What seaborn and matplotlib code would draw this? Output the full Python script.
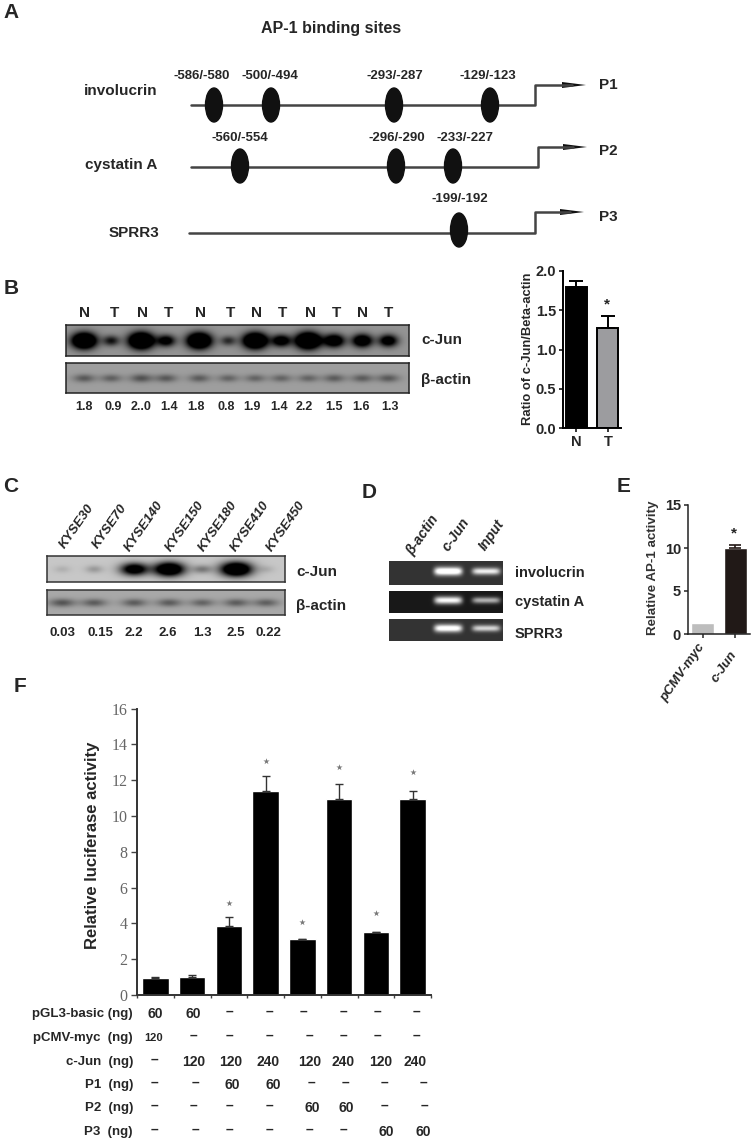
import numpy as np
import pandas as pd
import matplotlib
matplotlib.use("Agg")
import matplotlib.pyplot as plt
from matplotlib.patches import Ellipse
import seaborn as sns

W, H = 754, 1143

# Panel A
genes = ["involucrin", "cystatin A", "SPRR3"]
promoters = ["P1", "P2", "P3"]
site_labels = [["-586/-580", "-500/-494", "-293/-287", "-129/-123"],
               ["-560/-554", "-296/-290", "-233/-227"],
               ["-199/-192"]]
site_pos = [[214, 271, 394, 490], [240, 396, 453], [459]]
label_pos = [[202, 270, 395, 488], [240, 397, 465], [460]]

# Panel B
b_lanes = ["N", "T", "N", "T", "N", "T", "N", "T", "N", "T", "N", "T"]
b_lane_x = [84, 114, 142, 168, 200, 230, 256, 283, 310, 336, 363, 389]
b_ratios = ["1.8", "0.9", "2..0", "1.4", "1.8", "0.8", "1.9", "1.4", "2.2", "1.5", "1.6", "1.3"]
b_ratio_x = [84, 113, 141, 169, 196, 226, 252, 279, 304, 334, 361, 390]
b_band_x = [84, 111, 141, 166, 199, 228, 255, 281, 308, 334, 362, 388]
b_jun = [0.95, 0.35, 1.0, 0.5, 0.95, 0.28, 0.95, 0.55, 1.0, 0.65, 0.65, 0.55]
b_actin = [0.5, 0.45, 0.55, 0.5, 0.48, 0.42, 0.42, 0.42, 0.42, 0.48, 0.48, 0.5]
b_groups = ["N", "T"]
b_means = [1.8, 1.28]
b_errs = [0.07, 0.15]

# Panel C
c_lines = ["KYSE30", "KYSE70", "KYSE140", "KYSE150", "KYSE180", "KYSE410", "KYSE450"]
c_line_x = [77, 110, 144, 185, 218, 250, 286]
c_ratios = ["0.03", "0.15", "2.2", "2.6", "1.3", "2.5", "0.22"]
c_ratio_x = [63, 100, 134, 168, 202, 236, 268]
c_band_x = [62, 94, 134, 169, 202, 236, 266]
c_jun = [0.06, 0.12, 0.72, 0.9, 0.2, 0.95, 0.06]
c_actin = [0.55, 0.5, 0.5, 0.5, 0.45, 0.5, 0.48]

# Panel D
d_lanes = ["β-actin", "c-Jun", "Input"]
d_lane_x = [423, 456, 492]
d_genes = ["involucrin", "cystatin A", "SPRR3"]
d_jun = [1.0, 0.9, 0.9]
d_input = [0.75, 0.6, 0.65]

# Panel E
e_groups = ["pCMV-myc", "c-Jun"]
e_means = [1.25, 10.0]
e_errs = [0.0, 0.3]
e_colors = ["#bdbdbd", "#231815"]

# Panel F
f_groups = ["a", "b", "c", "d", "e", "f", "g", "h"]
f_means = [0.97, 1.02, 3.84, 11.38, 3.11, 10.93, 3.5, 10.97]
f_errs = [0.05, 0.09, 0.5, 0.85, 0.04, 0.85, 0.04, 0.45]
f_star_groups = [2, 3, 4, 5, 6, 7]
f_star_y = [5.12, 13.05, 4.08, 12.72, 4.6, 12.46]
f_rows = ["pGL3-basic (ng)", "pCMV-myc  (ng)", "c-Jun  (ng)", "P1  (ng)", "P2  (ng)", "P3  (ng)"]
f_table = [["60", "60", "–", "–", "–", "–", "–", "–"],
           ["120", "–", "–", "–", "–", "–", "–", "–"],
           ["–", "120", "120", "240", "120", "240", "120", "240"],
           ["–", "–", "60", "60", "–", "–", "–", "–"],
           ["–", "–", "–", "–", "60", "60", "–", "–"],
           ["–", "–", "–", "–", "–", "–", "60", "60"]]
f_table_x = [[155, 193, 229, 269, 303, 343, 377, 416],
             [154, 193, 229, 269, 309, 343, 377, 416],
             [154, 194, 231, 268, 310, 343, 381, 415],
             [154, 195, 232, 273, 311, 345, 384, 423],
             [154, 193, 229, 269, 312, 346, 384, 424],
             [154, 195, 229, 269, 309, 343, 386, 423]]
f_table_y = [1014, 1038, 1062, 1085, 1108, 1132]

sns.set_style("ticks")
plt.rcParams["font.family"] = ["Liberation Sans", "DejaVu Sans"]
plt.rcParams["font.weight"] = "bold"
plt.rcParams["axes.labelweight"] = "bold"

fig = plt.figure(figsize=(W / 100, H / 100), dpi=100)


def px_axes(x0, y0, x1, y1, **kw):
    return fig.add_axes([x0 / W, 1 - y1 / H, (x1 - x0) / W, (y1 - y0) / H], **kw)


def blot(x0, y0, x1, y1, band_x, strengths, bg, band_w, band_h, gain=1.5, edge="#222222"):
    # bands as soft blobs on a grey membrane
    ax = px_axes(x0, y0, x1, y1)
    xx, yy = np.meshgrid(np.arange(x0, x1, 0.5), np.arange(y0, y1, 0.5))
    cy = (y0 + y1) / 2
    img = np.full(xx.shape, bg, dtype=float)
    for bx, s in zip(band_x, strengths):
        w = band_w * (0.6 + 0.6 * s)
        h = band_h * (0.55 + 0.65 * s)
        img -= gain * s * np.exp(-((xx - bx) / w) ** 2 - ((yy - cy) / h) ** 2)
    img = np.clip(img, 0, 1)
    ax.imshow(img, cmap="gray", vmin=0, vmax=1, aspect="auto",
              extent=(x0, x1, y1, y0), interpolation="bilinear")
    ax.set_xticks([])
    ax.set_yticks([])
    for s in ax.spines.values():
        s.set_color(edge)
        s.set_linewidth(1.1)
    return ax


def gel(x0, y0, x1, y1, strengths, bg):
    ax = px_axes(x0, y0, x1, y1)
    xx, yy = np.meshgrid(np.arange(x0, x1, 0.5), np.arange(y0, y1, 0.5))
    cy = (y0 + y1) / 2 - 2
    img = np.full(xx.shape, bg, dtype=float)
    for bx, s, hw in zip([448, 486], strengths, [14, 14]):
        img += s * np.exp(-((xx - bx) / hw) ** 6 - ((yy - cy) / (3.4 * (0.5 + s * 0.7))) ** 2)
    ax.imshow(np.clip(img, 0, 1), cmap="gray", vmin=0, vmax=1, aspect="auto",
              extent=(x0, x1, y1, y0), interpolation="bilinear")
    ax.axis("off")


# background layer: texts and the promoter diagrams
bg = px_axes(0, 0, W, H)
bg.set_xlim(0, W)
bg.set_ylim(H, 0)
bg.axis("off")


def t(x, y, s, size=10, **kw):
    kw.setdefault("ha", "center")
    kw.setdefault("va", "center")
    bg.text(x, y, s, fontsize=size, **kw)


for x, y, s in [(11, 12, "A"), (11, 288, "B"), (11, 487, "C"), (369, 493, "D"), (624, 487, "E"), (20, 687, "F")]:
    t(x, y, s, 15)

# Panel A
t(331, 29, "AP-1 binding sites", 11.5)
line_y = [105, 167, 233]
line_x0 = [191, 191, 189]
line_x1 = [535, 538, 535]
arrow_y = [85, 147, 212]
arrow_x1 = [586, 587, 584]
gene_x = [121, 121, 134]
gene_y = [91, 165, 233]
prom_y = [85, 151, 217]
ell_y = [105, 166, 230]
lab_y = [76, 138, 199]
for i in range(3):
    bg.plot([line_x0[i], line_x1[i], line_x1[i], arrow_x1[i] - 14],
            [line_y[i], line_y[i], arrow_y[i], arrow_y[i]], color="#444444", lw=1.8)
    bg.fill([arrow_x1[i] - 24, arrow_x1[i], arrow_x1[i] - 24],
            [arrow_y[i] - 3, arrow_y[i], arrow_y[i] + 3], color="#111111", lw=0)
    t(gene_x[i], gene_y[i], genes[i], 11)
    t(608, prom_y[i], promoters[i], 11)
    for sx, lx, lab in zip(site_pos[i], label_pos[i], site_labels[i]):
        bg.add_patch(Ellipse((sx, ell_y[i]), 17, 34, color="#111111", zorder=3))
        t(lx, lab_y[i], lab, 9.5)

# Panel B blots
for x, s in zip(b_lane_x, b_lanes):
    t(x, 313, s, 11)
blot(66, 325, 409, 356, b_band_x, b_jun, 0.58, 10, 6.5)
blot(66, 363, 409, 393, b_band_x, b_actin, 0.62, 12, 4.5, gain=0.55)
t(421, 340, "c-Jun", 11, ha="left")
t(421, 380, "β-actin", 11, ha="left")
for x, s in zip(b_ratio_x, b_ratios):
    t(x, 407, s, 9)

# Panel B bars
df_b = pd.DataFrame({"group": b_groups, "ratio": b_means})
ax_b = px_axes(563, 271, 621, 428)
ax_b.patch.set_alpha(0)
sns.barplot(data=df_b, x="group", y="ratio", hue="group", palette=["#000000", "#9b9ba0"],
            width=0.66, edgecolor="black", linewidth=1.4, legend=False, ax=ax_b)
ax_b.errorbar(range(2), b_means, yerr=[[0, 0], b_errs], fmt="none", ecolor="black",
              elinewidth=1.4, capsize=5, capthick=1.4)
ax_b.set_ylim(0, 2)
ax_b.set_yticks([0, 0.5, 1, 1.5, 2])
ax_b.set_yticklabels(["0.0", "0.5", "1.0", "1.5", "2.0"])
ax_b.set_xlabel("")
ax_b.set_ylabel("")
ax_b.tick_params(labelsize=10.5, width=1.3, length=3, pad=2)
sns.despine(ax=ax_b)
for s in ["left", "bottom"]:
    ax_b.spines[s].set_linewidth(1.4)
    ax_b.spines[s].set_color("black")
t(528, 349, "Ratio of c-Jun/Beta-actin", 9.4, rotation=90)
t(607, 304, "*", 11)

# Panel C
for x, s in zip(c_line_x, c_lines):
    t(x, 526, s, 9.5, rotation=55, style="italic")
blot(47, 556, 285, 582, c_band_x, c_jun, 0.78, 13, 6, edge="#333333")
blot(47, 590, 285, 615, c_band_x, c_actin, 0.66, 14, 4.5, gain=0.6, edge="#333333")
t(296, 572, "c-Jun", 11, ha="left")
t(296, 606, "β-actin", 11, ha="left")
for x, s in zip(c_ratio_x, c_ratios):
    t(x, 633, s, 9.5)

# Panel D
for x, s in zip(d_lane_x, d_lanes):
    t(x, 535, s, 10, rotation=55, style="italic")
gel_y0 = [561, 591, 619]
gel_y1 = [585, 613, 641]
gel_bg = [0.2, 0.1, 0.2]
d_lab_y = [573, 602, 634]
for i in range(3):
    gel(389, gel_y0[i], 503, gel_y1[i], [d_jun[i], d_input[i]], gel_bg[i])
    t(515, d_lab_y[i], d_genes[i], 10.5, ha="left")

# Panel E
df_e = pd.DataFrame({"group": e_groups, "activity": e_means})
ax_e = px_axes(688, 505, 750, 634)
ax_e.patch.set_alpha(0)
sns.barplot(data=df_e, x="group", y="activity", hue="group", palette=e_colors,
            width=0.72, legend=False, ax=ax_e)
ax_e.errorbar([1], e_means[1:], yerr=[[0], e_errs[1:]], fmt="none", ecolor="#231815",
              elinewidth=1.2, capsize=4, capthick=1.2)
ax_e.set_ylim(0, 15)
ax_e.set_yticks([0, 5, 10, 15])
ax_e.set_xticks([0, 1])
ax_e.set_xticklabels([])
ax_e.set_xlabel("")
ax_e.set_ylabel("")
ax_e.tick_params(labelsize=10.5, width=1.1, length=3, pad=2)
sns.despine(ax=ax_e)
for s in ["left", "bottom"]:
    ax_e.spines[s].set_color("#222222")
    ax_e.spines[s].set_linewidth(1.1)
t(653, 568, "Relative AP-1 activity", 9.6, rotation=90, color="#333333")
t(683, 673, e_groups[0], 9.5, rotation=55, style="italic")
t(724, 667, e_groups[1], 9.5, rotation=55, style="italic")
t(734, 533, "*", 11)

# Panel F
df_f = pd.DataFrame({"group": f_groups, "activity": f_means})
ax_f = px_axes(137, 708.6, 431, 995)
ax_f.patch.set_alpha(0)
sns.barplot(data=df_f, x="group", y="activity", color="black", saturation=1,
            width=0.72, ax=ax_f)
ax_f.errorbar(range(8), f_means, yerr=[[0] * 8, f_errs], fmt="none", ecolor="#333333",
              elinewidth=1.0, capsize=3, capthick=1.0)
ax_f.scatter(f_star_groups, f_star_y, marker="*", s=22, color="#777777", lw=0)
ax_f.set_xlim(-0.5, 7.5)
ax_f.set_ylim(0, 16)
ax_f.set_yticks(range(0, 17, 2))
ax_f.set_yticklabels(range(0, 17, 2), family="Liberation Serif", fontweight="normal",
                     color="#666666", fontsize=11.5)
ax_f.set_xticks(np.arange(-0.5, 8))
ax_f.set_xticklabels([])
ax_f.set_xlabel("")
ax_f.set_ylabel("")
ax_f.tick_params(axis="y", width=1, length=4, pad=3, color="#444444")
ax_f.tick_params(axis="x", width=1, length=2, direction="out", color="#444444")
sns.despine(ax=ax_f)
for s in ["left", "bottom"]:
    ax_f.spines[s].set_color("#333333")
    ax_f.spines[s].set_linewidth(1.4)
t(93, 845, "Relative luciferase activity", 12, rotation=90)

for row, y, vals, xs in zip(f_rows, f_table_y, f_table, f_table_x):
    t(133, y, row, 9.5, ha="right")
    for x, v in zip(xs, vals):
        small = v == "120" and row.startswith("pCMV")
        t(x, y - 2 if v == "–" else y, v, 8 if small else 10)

fig.savefig("out.png", dpi=100)
